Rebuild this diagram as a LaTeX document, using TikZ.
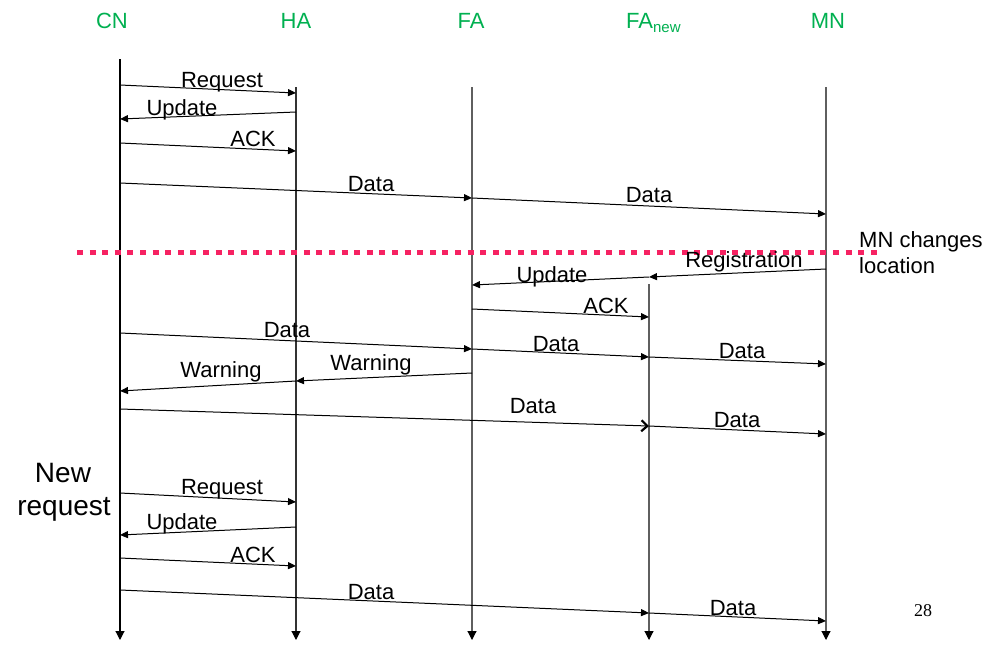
\documentclass[tikz,border=0pt]{standalone}
\usepackage{fontspec}
\setmainfont{Liberation Sans}
\newfontfamily\numfont{Liberation Serif}
\usetikzlibrary{arrows.meta}
\definecolor{hdgreen}{RGB}{0,176,80}
\definecolor{dotred}{RGB}{246,34,98}
\definecolor{lifegray}{RGB}{95,95,95}
\tikzset{
  life/.style={draw=lifegray,line width=1.1pt,-{Triangle[length=9pt,width=9pt,color=black]}},
  msg/.style={draw=black,line width=1pt,-{Triangle[length=8pt,width=7pt]}},
  msgopen/.style={draw=black,line width=1pt,-{Straight Barb[length=6pt,width=11pt,line width=2.2pt]}},
  lbl/.style={anchor=base,inner sep=0pt,font=\fontsize{22}{26}\selectfont},
  hdr/.style={anchor=base,inner sep=0pt,text=hdgreen,font=\fontsize{22}{26}\selectfont},
  side/.style={anchor=base west,inner sep=0pt,font=\fontsize{22}{26}\selectfont},
  big/.style={anchor=base,inner sep=0pt,font=\fontsize{28}{33}\selectfont},
  change/.style={draw=dotred,line width=5pt,dash pattern=on 6pt off 6.6pt}
}
\begin{document}
\begin{tikzpicture}[x=1pt,y=-1pt]
\useasboundingbox (0,0) rectangle (991,665);
% headers
\node[hdr] (hCN) at (112,28.5) {CN};
\node[hdr] (hHA) at (296,28.5) {HA};
\node[hdr] (hFA) at (471,28.5) {FA};
\node[hdr,anchor=base west] (hFAn) at (626,28.5) {FA\raisebox{-4pt}{\fontsize{15}{15}\selectfont new}};
\node[hdr] (hMN) at (828,28.5) {MN};
% lifelines
\coordinate (CNt) at (120,59);  \coordinate (CNb) at (120,640);
\coordinate (HAt) at (296,87);  \coordinate (HAb) at (296,640);
\coordinate (FAt) at (472,87);  \coordinate (FAb) at (472,640);
\coordinate (FNt) at (649,284); \coordinate (FNb) at (649,640);
\coordinate (MNt) at (826,87);  \coordinate (MNb) at (826,640);
\draw[life,draw=black] (CNt) -- (CNb);
\draw[life,draw=black!80] (HAt) -- (HAb);
\draw[life] (FAt) -- (FAb);
\draw[life] (FNt) -- (FNb);
\draw[life] (MNt) -- (MNb);
% change of location
\coordinate (dotL) at (77,252); \coordinate (dotR) at (877,252);
\draw[change] (dotL) -- (dotR);
\node[side] (chg1) at (859,247) {MN changes};
\node[side] (chg2) at (859,273) {location};
% first exchange
\coordinate (a1) at (120,85);  \coordinate (a2) at (296,93);
\draw[msg] (a1) -- (a2);
\node[lbl] (la) at (222,87) {Request};
\coordinate (b1) at (296,112); \coordinate (b2) at (120,119);
\draw[msg] (b1) -- (b2);
\node[lbl] (lb) at (182,115.5) {Update};
\coordinate (c1) at (120,143); \coordinate (c2) at (296,151);
\draw[msg] (c1) -- (c2);
\node[lbl] (lc) at (253,146.5) {ACK};
\coordinate (d1) at (120,183); \coordinate (d2) at (472,198);
\draw[msg] (d1) -- (d2);
\node[lbl] (ld) at (371,191) {Data};
\coordinate (e2) at (826,214);
\draw[msg] (d2) -- (e2);
\node[lbl] (le) at (649,202) {Data};
% after move
\coordinate (f1) at (826,269); \coordinate (f2) at (649,277);
\draw[msg] (f1) -- (f2);
\node[lbl] (lf) at (744,267) {Registration};
\coordinate (g2) at (472,285);
\draw[msg] (f2) -- (g2);
\node[lbl] (lg) at (552,282) {Update};
\coordinate (h1) at (472,309); \coordinate (h2) at (649,317);
\draw[msg] (h1) -- (h2);
\node[lbl] (lh) at (606,313) {ACK};
\coordinate (i1) at (120,333); \coordinate (i2) at (472,349);
\draw[msg] (i1) -- (i2);
\node[lbl] (li) at (287,337) {Data};
\coordinate (j2) at (649,357);
\draw[msg] (i2) -- (j2);
\node[lbl] (lj) at (556,351) {Data};
\coordinate (k2) at (826,364);
\draw[msg] (j2) -- (k2);
\node[lbl] (lk) at (742,358) {Data};
\coordinate (w1) at (472,373); \coordinate (w2) at (296,381); \coordinate (w3) at (120,391);
\draw[msg] (w1) -- (w2);
\node[lbl] (lw1) at (371,370) {Warning};
\draw[msg] (w2) -- (w3);
\node[lbl] (lw2) at (221,377) {Warning};
\coordinate (n1) at (120,409); \coordinate (n2) at (649,426); \coordinate (n3) at (826,434);
\draw[msgopen] (n1) -- (n2);
\node[lbl] (ln1) at (533,413) {Data};
\draw[msg] (n2) -- (n3);
\node[lbl] (ln2) at (737,427) {Data};
% new request
\node[big] (nr1) at (63,482) {New};
\node[big] (nr2) at (64,515) {request};
\coordinate (p1) at (120,493); \coordinate (p2) at (296,502);
\draw[msg] (p1) -- (p2);
\node[lbl] (lp) at (222,494) {Request};
\coordinate (q1) at (296,527); \coordinate (q2) at (120,535);
\draw[msg] (q1) -- (q2);
\node[lbl] (lq) at (182,529) {Update};
\coordinate (r1) at (120,558); \coordinate (r2) at (296,566);
\draw[msg] (r1) -- (r2);
\node[lbl] (lr) at (253,562) {ACK};
\coordinate (s1) at (120,590); \coordinate (s2) at (649,613); \coordinate (s3) at (826,621);
\draw[msg] (s1) -- (s2);
\node[lbl] (ls1) at (371,599) {Data};
\draw[msg] (s2) -- (s3);
\node[lbl] (ls2) at (733,615) {Data};
% page number
\node[anchor=base,inner sep=0pt,font=\numfont\fontsize{18}{20}\selectfont] (pg) at (923,616) {28};
\end{tikzpicture}
\end{document}
